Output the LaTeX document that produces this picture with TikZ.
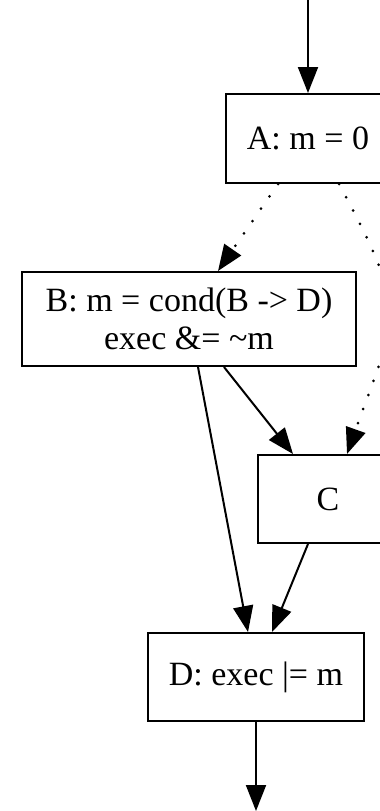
\documentclass[tikz,border=0pt]{standalone}
\usepackage{fontspec}
\setmainfont{Liberation Serif}
\usetikzlibrary{arrows.meta,calc}
\begin{document}
\begin{tikzpicture}[x=1pt,y=1pt,
  box/.style={draw, line width=2pt, rectangle, inner sep=0pt,
    font=\fontsize{34}{38}\selectfont, align=center},
  edge/.style={line width=2pt, -{Triangle[length=26pt,width=20pt]}},
  dotedge/.style={edge, line width=3pt, line cap=round, dash pattern=on 0pt off 15pt}]
\useasboundingbox (0,0) rectangle (380,-811);
\clip (0,0) rectangle (380,-811);
\node[box, minimum width=164pt, minimum height=89pt] (A) at (308,-138.5) {A: m = 0};
\node[box, minimum width=334pt, minimum height=94pt] (B) at (189,-319) {B: m = cond(B -> D)\\exec \&= \textasciitilde m};
\node[box, minimum width=140pt, minimum height=88pt] (C) at (328,-499) {C};
\node[box, minimum width=216pt, minimum height=88pt] (D) at (256,-677) {D: exec |= m};
\coordinate (top) at (308,0);
\coordinate (bot) at (256,-811);
\draw[edge] (top) -- (A.north);
\draw[dotedge] ($(A.south)+(-30,0)$) -- ($(B.north)+(29,0)$);
\draw[dotedge] ($(A.south)+(31,0)$) .. controls +(-61.7:150) and +(70.4:150) .. ($(C.north)+(19,0)$);
\draw[edge] ($(B.south)+(35,0)$) -- ($(C.north)+(-35,0)$);
\draw[edge] ($(B.south)+(9,0)$) -- ($(D.north)+(-8,0)$);
\draw[edge] ($(C.south)+(-20,0)$) -- ($(D.north)+(16,0)$);
\draw[edge] (D.south) -- (bot);
\end{tikzpicture}
\end{document}
